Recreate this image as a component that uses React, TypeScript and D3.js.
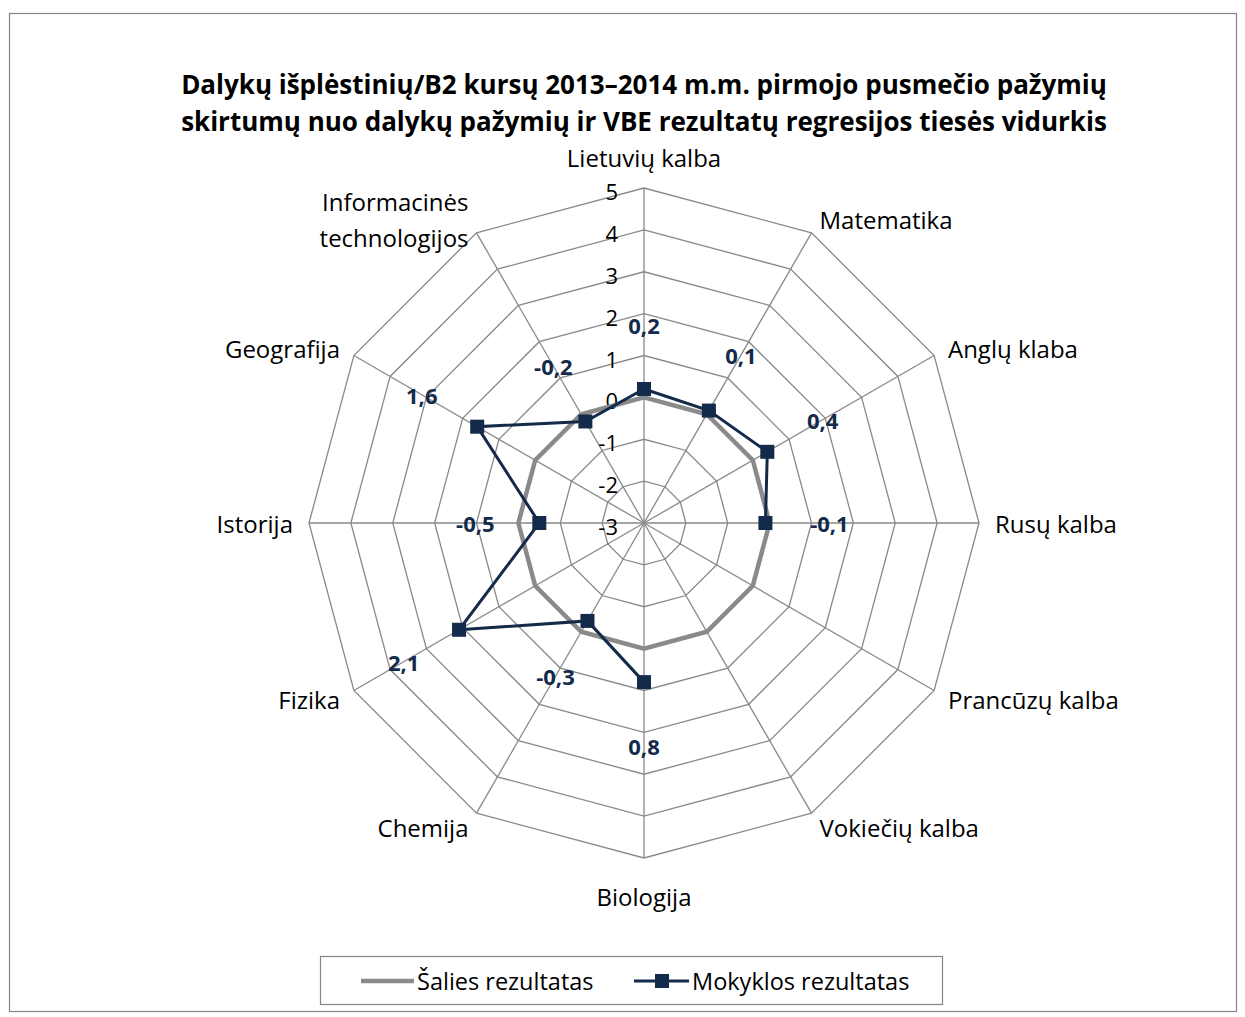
import React from "react";
import * as d3 from "d3";

// chart data
const subjects = [
  "Lietuvių kalba",
  "Matematika",
  "Anglų klaba",
  "Rusų kalba",
  "Prancūzų kalba",
  "Vokiečių kalba",
  "Biologija",
  "Chemija",
  "Fizika",
  "Istorija",
  "Geografija",
  "Informacinės technologijos",
];
const salies = [0, 0, 0, 0, 0, 0, 0, 0, 0, 0, 0, 0];
const mokyklos: (number | null)[] = [0.2, 0.1, 0.4, -0.1, null, null, 0.8, -0.3, 2.1, -0.5, 1.6, -0.2];
const ringTicks = [-3, -2, -1, 0, 1, 2, 3, 4, 5];
const titleLines = [
  "Dalykų išplėstinių/B2 kursų 2013–2014 m.m. pirmojo pusmečio pažymių",
  "skirtumų nuo dalykų pažymių ir VBE rezultatų regresijos tiesės vidurkis",
];
const seriesNames = ["Šalies rezultatas", "Mokyklos rezultatas"];

const W = 1245;
const H = 1017;
const cx = 644;
const cy = 523;
const R = 335;
const FONT = "'Open Sans', Lato, sans-serif";
const GRID = "#898989";
const DARK = "#132a4a";
const GRAY = "#8a8a8a";

export default function App() {
  const r = d3.scaleLinear().domain([-3, 5]).range([0, R]);
  const n = subjects.length;
  const ang = (i: number) => (i * 2 * Math.PI) / n;
  const pt = (i: number, rad: number): [number, number] => [
    cx + rad * Math.sin(ang(i)),
    cy - rad * Math.cos(ang(i)),
  ];

  const ringLine = d3.line<[number, number]>().curve(d3.curveLinearClosed);

  // national series: closed polygon
  const salLine = d3
    .lineRadial<number>()
    .angle((_, i) => ang(i))
    .radius((d) => r(d))
    .curve(d3.curveLinearClosed);

  // school series with gaps where there is no data
  const mokData = mokyklos.map((v, i) => ({ v, i })).concat([{ v: mokyklos[0], i: n }]);
  const mokLine = d3
    .lineRadial<{ v: number | null; i: number }>()
    .angle((d) => ang(d.i))
    .radius((d) => r(d.v as number))
    .defined((d) => d.v != null);

  const fmt = (v: number) => String(v).replace(".", ",");

  return (
    <svg width={W} height={H} style={{ position: "absolute", left: 0, top: 0, background: "#fff" }}>
      <rect x={9.5} y={13.5} width={1227} height={998} fill="#fff" stroke="#868686" strokeWidth={1.2} />

      {titleLines.map((t, i) => (
        <text
          key={i}
          x={cx}
          y={84 + i * 37}
          textAnchor="middle"
          dominantBaseline="central"
          fontFamily={FONT}
          fontWeight="bold"
          fontSize={26}
          fill="#000"
        >
          {t}
        </text>
      ))}

      {/* grid rings */}
      <g fill="none" stroke={GRID} strokeWidth={1.3}>
        {ringTicks.slice(1).map((t) => (
          <path key={t} d={ringLine(d3.range(n).map((i) => pt(i, r(t)))) as string} />
        ))}
        {d3.range(n).map((i) => {
          const [x, y] = pt(i, R);
          return <line key={i} x1={cx} y1={cy} x2={x} y2={y} />;
        })}
      </g>

      {/* ring tick labels */}
      {ringTicks.map((t) => (
        <text
          key={t}
          x={cx - 26}
          y={cy - r(t) + 3}
          textAnchor="end"
          dominantBaseline="central"
          fontFamily={FONT}
          fontSize={22}
          fill="#000"
        >
          {t}
        </text>
      ))}

      {/* axis labels */}
      {subjects.map((s, i) => {
        const [x, y] = pt(i, R + 16);
        const sx = Math.round(Math.sin(ang(i)) * 1000);
        const anchor = sx > 0 ? "start" : sx < 0 ? "end" : "middle";
        let yy = y;
        if (i === 0) yy = y - 15;
        if (i === n / 2) yy = y + 22;
        const lines = s === "Informacinės technologijos" ? ["Informacinės", "technologijos"] : [s];
        return (
          <text
            key={s}
            x={x}
            y={yy}
            textAnchor={anchor}
            dominantBaseline="central"
            fontFamily={FONT}
            fontSize={24}
            fill="#000"
          >
            {lines.map((l, k) => (
              <tspan key={k} x={x} y={yy + (k - (lines.length - 1) / 2) * 36}>
                {l}
              </tspan>
            ))}
          </text>
        );
      })}

      {/* series */}
      <path
        d={salLine(salies) as string}
        transform={`translate(${cx},${cy})`}
        fill="none"
        stroke={GRAY}
        strokeWidth={4.5}
      />
      <path
        d={mokLine(mokData) as string}
        transform={`translate(${cx},${cy})`}
        fill="none"
        stroke={DARK}
        strokeWidth={3}
      />
      {mokyklos.map((v, i) => {
        if (v == null) return null;
        const [x, y] = pt(i, r(v));
        return <rect key={i} x={x - 7} y={y - 7} width={14} height={14} fill={DARK} />;
      })}

      {/* data labels */}
      {mokyklos.map((v, i) => {
        if (v == null) return null;
        const [x, y] = pt(i, r(v) + 64);
        return (
          <text
            key={i}
            x={x}
            y={y}
            textAnchor="middle"
            dominantBaseline="central"
            fontFamily={FONT}
            fontWeight="bold"
            fontSize={22}
            fill={DARK}
          >
            {fmt(v)}
          </text>
        );
      })}

      {/* legend */}
      <rect x={320.5} y={956.5} width={622} height={48} fill="#fff" stroke="#868686" strokeWidth={1.2} />
      <line x1={361} x2={414} y1={981} y2={981} stroke={GRAY} strokeWidth={4.5} />
      <text x={417} y={981} dominantBaseline="central" fontFamily={FONT} fontSize={23.5} fill="#000">
        {seriesNames[0]}
      </text>
      <line x1={634} x2={689} y1={981} y2={981} stroke={DARK} strokeWidth={3} />
      <rect x={655} y={974} width={14} height={14} fill={DARK} />
      <text x={692} y={981} dominantBaseline="central" fontFamily={FONT} fontSize={23.5} fill="#000">
        {seriesNames[1]}
      </text>
    </svg>
  );
}
